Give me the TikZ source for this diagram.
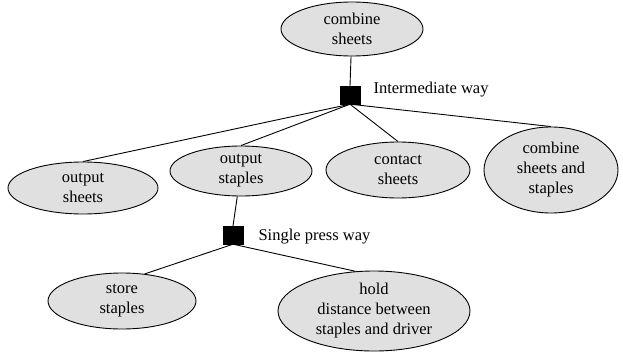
\documentclass[tikz,border=0pt]{standalone}
\usepackage{fontspec}
\setmainfont{Liberation Serif}
\usepackage{tikz}
\usetikzlibrary{shapes}
\usetikzlibrary{arrows}
\tikzset{
  main node/.style={ellipse,draw,fill=black!12,line width=0.9pt,inner sep=0pt,
    align=center,font=\fontsize{16.5}{20}\selectfont},
  way node/.style={rectangle,fill=black,draw=black,minimum width=20pt,minimum height=18pt,inner sep=0pt},
  way label/.style={anchor=west,font=\fontsize{16.5}{20}\selectfont},
  link/.style={line width=0.9pt}
}
\begin{document}
\begin{tikzpicture}[x=1pt,y=-1pt]
        \useasboundingbox (0,0) rectangle (623,353);
        \node [main node,minimum width=142pt,minimum height=54pt] (1) at (352,29) {combine\\sheets};
        \node [way node] (w1) at (350,95) {};
        \node [way label] (l1) at (370,90) {Intermediate way};
        \node [main node,minimum width=150pt,minimum height=52pt] (2) at (83,188) {output\\sheets};
        \node [main node,minimum width=142pt,minimum height=50pt] (3) at (241,171) {output\\staples};
        \node [main node,minimum width=144pt,minimum height=56pt] (4) at (398,170) {contact\\sheets};
        \node [main node,minimum width=134pt,minimum height=86pt] (5) at (551,170) {combine\\sheets and\\staples};
        \node [way node] (w2) at (233,235) {};
        \node [way label] (l2) at (255,237) {Single press way};
        \node [main node,minimum width=148pt,minimum height=56pt] (6) at (122,301) {store\\staples};
        \node [main node,minimum width=192pt,minimum height=80pt] (7) at (374,311) {hold\\distance between\\staples and driver};
        \draw [link] (1) -- (w1.north);
        \draw [link] (w1.south) -- (2.north);
        \draw [link] (w1.south) -- (3.north);
        \draw [link] (w1.south) -- (4.north);
        \draw [link] (w1.south) -- (5.north);
        \draw [link] (3) -- (w2.north);
        \draw [link] (w2.south) -- (6.50);
        \draw [link] (w2.south) -- (7.115);
      \end{tikzpicture}
\end{document}
